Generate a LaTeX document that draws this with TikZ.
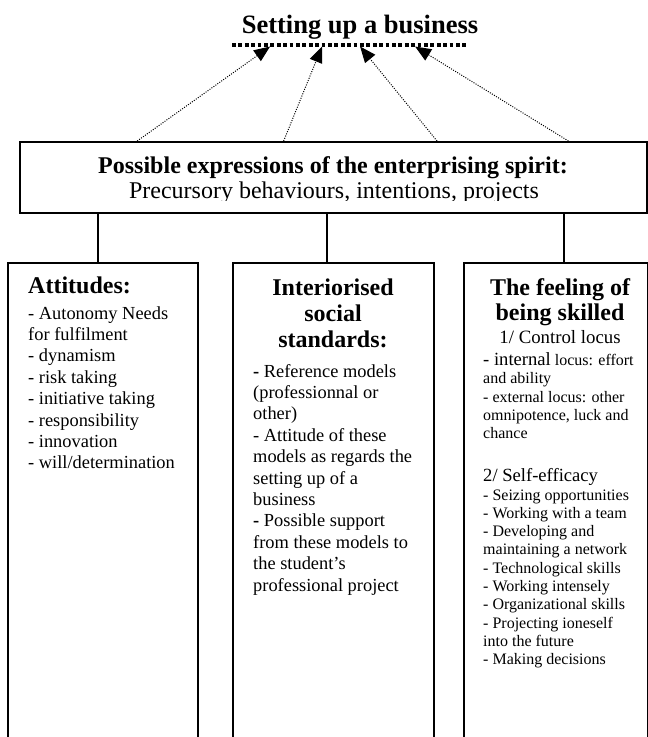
\documentclass[tikz,border=0pt]{standalone}
\usepackage{fontspec}
\setmainfont{Liberation Serif}
\usetikzlibrary{arrows.meta,calc}
\begin{document}
\begin{tikzpicture}[x=1pt,y=-1pt,
  box/.style={draw, line width=1.6pt, inner sep=0pt, anchor=north west},
  ttl/.style={font=\fontsize{26.5}{30}\selectfont\bfseries, inner sep=0pt, anchor=base},
  hd/.style={font=\fontsize{24}{28}\selectfont\bfseries, inner sep=0pt, anchor=base},
  lst/.style={font=\fontsize{18.4}{21}\selectfont, inner sep=0pt, anchor=base west},
  sm/.style={font=\fontsize{16}{18}\selectfont, inner sep=0pt, anchor=base west},
  ptr/.style={line width=1pt, dash pattern=on 1pt off 1.4pt, -{Triangle[length=16pt,width=13pt]}},
  bar/.style={line width=3.8pt, dash pattern=on 3.8pt off 2.6pt},
  link/.style={line width=1.5pt}]
\useasboundingbox (0,0) rectangle (648,737);
\clip (0,0) rectangle (648,737);
% title and dotted bar
\node[ttl] (title) at (360,33) {Setting up a business};
\coordinate (barL) at (232,45.3);
\coordinate (barR) at (467,45.3);
\draw[bar] (barL) -- (barR);
% top box
\node[box, minimum width=627pt, minimum height=71pt] (top) at (19,141) {};
\node[hd] (topA) at (333,173) {Possible expressions of the enterprising spirit:};
\begin{scope}
  \clip (19,141) rectangle (646,200.5);
  \node[hd, font=\fontsize{24}{28}\selectfont] (topB) at (334,198) {Precursory behaviours, intentions, projects};
\end{scope}
% arrows to the bar
\foreach \s/\t in {0.188/0.162, 0.421/0.383, 0.665/0.545, 0.874/0.779}
  \draw[ptr] ($(top.north west)!\s!(top.north east)$) -- ($(barL)!\t!(barR)+(0,1.2)$);
% lower boxes
\node[box, minimum width=190pt, minimum height=520pt] (att) at (7,262) {};
\node[box, minimum width=201pt, minimum height=520pt] (iss) at (232,262) {};
\node[box, minimum width=184pt, minimum height=520pt] (fbs) at (463,262) {};
\coordinate (c1) at ($(att.north west)+(91,0)$);
\coordinate (c2) at ($(iss.north west)+(95,0)$);
\coordinate (c3) at ($(fbs.north west)+(101,0)$);
\draw[link] (top.south -| c1) -- (c1);
\draw[link] (top.south -| c2) -- (c2);
\draw[link] (top.south -| c3) -- (c3);
% left box text
\node[hd, anchor=base west] (Lh) at (28,293) {Attitudes:};
\foreach \t [count=\i] in {- Autonomy Needs, for fulfilment, - dynamism, - risk taking, - initiative taking, - responsibility, - innovation, - will/determination}
  \node[lst] (L\i) at (28,{319+21.4*(\i-1)}) {\t};
% middle box text
\node[hd] (Mh1) at (333,295) {Interiorised};
\node[hd] (Mh2) at (333,321) {social};
\node[hd] (Mh3) at (333,347) {standards:};
\foreach \t [count=\i] in {{\textbf{-} Reference models}, {(professionnal or}, {other)}, - Attitude of these, models as regards the, setting up of a, business, {\textbf{-} Possible support}, from these models to, the student’s, professional project}
  \node[lst] (M\i) at (253,{377+21.4*(\i-1)}) {\t};
% right box text
\node[hd] (Rh1) at (560,295) {The feeling of};
\node[hd] (Rh2) at (560,320) {being skilled};
\node[hd, font=\fontsize{18.8}{21}\selectfont] (Rc) at (560,343) {1/ Control locus};
\node[sm] (R1) at (483,365) {{\fontsize{18.6}{21}\selectfont - internal} locus: effort};
\node[sm] (R2) at (483,383) {and ability};
\node[sm] (R3) at (483,402) {- external locus: other};
\node[sm] (R4) at (483,420) {omnipotence, luck and};
\node[sm] (R5) at (483,438) {chance};
\node[lst, font=\fontsize{18.6}{21}\selectfont] (Rs) at (483,481) {2/ Self-efficacy};
\foreach \t [count=\i] in {- Seizing opportunities, - Working with a team, - Developing and, maintaining a network, - Technological skills, - Working intensely, - Organizational skills, - Projecting ioneself, into the future, - Making decisions}
  \node[sm] (S\i) at (483,{500+18.3*(\i-1)}) {\t};
\end{tikzpicture}
\end{document}
